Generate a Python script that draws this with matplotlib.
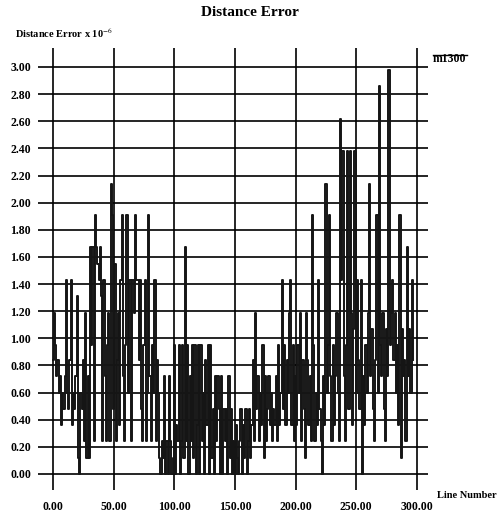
import numpy as np
import matplotlib
matplotlib.use("Agg")
import matplotlib.pyplot as plt

# distance error per line (x 10^-6), 10 lines per row
distance_error = [
    0.84, 1.19, 0.95, 0.72, 0.84, 0.60, 0.72, 0.36, 0.60, 0.48,
    0.72, 1.43, 0.60, 0.48, 0.84, 1.43, 0.36, 0.60, 0.48, 0.72,
    1.31, 0.12, 0.00, 0.60, 0.48, 0.84, 0.24, 1.19, 0.12, 0.72,
    0.12, 1.67, 0.95, 1.67, 0.24, 1.91, 1.67, 1.55, 1.43, 1.67,
    1.31, 0.24, 1.43, 0.72, 0.24, 0.95, 1.19, 0.24, 2.14, 1.91,
    0.48, 1.55, 0.24, 0.84, 1.19, 0.36, 1.43, 1.91, 0.72, 0.24,
    0.95, 1.91, 0.60, 1.43, 1.43, 0.24, 1.43, 1.19, 1.91, 1.43,
    1.43, 0.84, 1.43, 0.48, 0.24, 0.95, 1.43, 0.24, 0.60, 1.91,
    0.72, 0.24, 0.95, 0.60, 1.43, 0.24, 0.84, 0.60, 0.12, 0.00,
    0.24, 0.12, 0.72, 0.00, 0.24, 0.00, 0.72, 0.24, 0.00, 0.12,
    0.95, 0.00, 0.36, 0.24, 0.95, 0.00, 0.24, 0.95, 0.12, 1.67,
    0.24, 0.95, 0.00, 0.72, 0.24, 0.95, 0.12, 0.95, 0.00, 0.36,
    0.95, 0.00, 0.95, 0.24, 0.60, 0.00, 0.84, 0.36, 0.95, 0.00,
    0.95, 0.12, 0.48, 0.00, 0.72, 0.24, 0.72, 0.48, 0.00, 0.72,
    0.00, 0.48, 0.24, 0.48, 0.00, 0.72, 0.12, 0.48, 0.00, 0.24,
    0.00, 0.36, 0.12, 0.00, 0.24, 0.48, 0.00, 0.36, 0.12, 0.48,
    0.00, 0.24, 0.48, 0.12, 0.36, 0.84, 0.24, 1.19, 0.48, 0.72,
    0.24, 0.60, 0.36, 0.95, 0.12, 0.72, 0.24, 0.48, 0.72, 0.36,
    0.60, 0.24, 0.48, 0.36, 0.72, 0.24, 0.95, 0.36, 0.60, 1.43,
    0.48, 0.95, 0.36, 0.84, 0.60, 1.19, 1.43, 0.36, 0.95, 0.24,
    0.72, 0.36, 0.95, 0.60, 1.19, 0.24, 0.84, 0.48, 0.12, 1.19,
    0.84, 0.36, 0.72, 0.24, 1.91, 0.95, 0.24, 0.60, 0.36, 1.43,
    0.48, 0.24, 0.00, 0.72, 0.36, 2.14, 0.60, 0.95, 1.91, 0.72,
    0.24, 0.95, 0.36, 0.72, 1.19, 0.60, 0.24, 2.62, 1.43, 2.38,
    0.72, 0.24, 0.95, 2.38, 0.48, 2.38, 1.19, 0.36, 1.07, 2.38,
    0.60, 1.43, 0.84, 0.48, 1.43, 0.00, 0.72, 0.36, 0.95, 0.60,
    1.19, 2.14, 0.72, 1.07, 0.48, 0.24, 0.84, 1.91, 0.60, 2.86,
    0.95, 0.72, 1.19, 0.48, 0.24, 1.07, 0.72, 2.98, 0.95, 1.19,
    1.43, 0.84, 1.19, 0.60, 0.95, 0.36, 1.91, 0.12, 1.07, 0.72,
    0.84, 0.24, 1.67, 0.72, 1.07, 0.60, 1.43, 0.84,
]
line_number = np.arange(len(distance_error))

x_ticks = [0, 50, 100, 150, 200, 250, 300]
y_ticks = [0.0, 0.2, 0.4, 0.6, 0.8, 1.0, 1.2, 1.4, 1.6, 1.8, 2.0, 2.2, 2.4, 2.6, 2.8, 3.0]
series_name = "m1300"

serif = "Liberation Serif"
plt.rcParams["mathtext.fontset"] = "stix"

fig = plt.figure(figsize=(4.98, 5.15), dpi=100)
ax = fig.add_axes([38 / 498, 25 / 515, 390 / 498, 442 / 515])

# old plotter output: spikes drawn as vertical steps
ax.plot(line_number, distance_error, color="#151515", linewidth=1.4,
        drawstyle="steps-mid", zorder=3)

ax.set_xlim(-12.4, 309.1)
ax.set_ylim(-0.118, 3.14)
ax.set_xticks(x_ticks)
ax.set_yticks(y_ticks)
ax.set_xticklabels([f"{v:.2f}" for v in x_ticks], fontfamily=serif,
                   fontweight="bold", fontsize=8.5)
ax.set_yticklabels([f"{v:.2f}" for v in y_ticks], fontfamily=serif,
                   fontweight="bold", fontsize=8.5)
ax.tick_params(length=0)
ax.tick_params(axis="x", pad=8)
ax.tick_params(axis="y", pad=5)
ax.grid(True, color="black", linewidth=1.2, zorder=1)
ax.set_axisbelow(True)
for s in ax.spines.values():
    s.set_visible(False)

fig.text(250 / 498, 1 - 13 / 515, "Distance Error", ha="center", va="center",
         fontfamily=serif, fontweight="bold", fontsize=11)
fig.text(15 / 498, 1 - 33 / 515, r"Distance Error x 10$^{-6}$", ha="left",
         va="center", fontfamily=serif, fontweight="bold", fontsize=7.5)
fig.text(437 / 498, 1 - 495 / 515, "Line Number", ha="left", va="center",
         fontfamily=serif, fontweight="bold", fontsize=7.5)

# legend: short line over the series name
fig.add_artist(plt.Line2D([433 / 498, 467 / 498], [1 - 55 / 515, 1 - 55 / 515],
                          color="black", linewidth=1.0))
fig.text(433 / 498, 1 - 59.5 / 515, series_name, ha="left", va="center",
         fontfamily=serif, fontweight="bold", fontsize=8.5)

fig.savefig("out.png", dpi=100)
